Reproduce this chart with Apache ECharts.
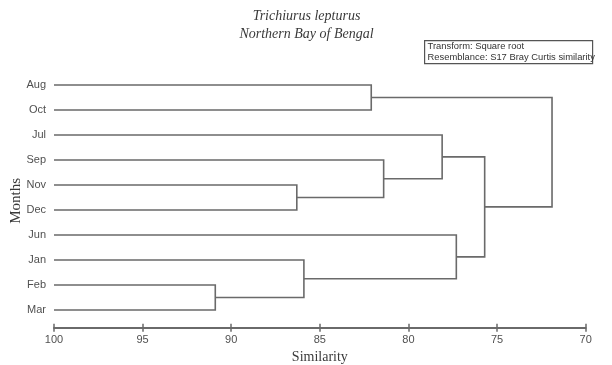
<!DOCTYPE html>
<html>
<head>
<meta charset="utf-8">
<script src="https://cdn.jsdelivr.net/npm/echarts@6/dist/echarts.min.js"></script>
<style>
  html, body { margin: 0; padding: 0; background: #fff; }
  #chart { width: 612px; height: 365px; }
</style>
</head>
<body>
<div id="chart"></div>
<script>
// Leaf order of the dendrogram, top to bottom
const months = ['Aug', 'Oct', 'Jul', 'Sep', 'Nov', 'Dec', 'Jun', 'Jan', 'Feb', 'Mar'];

// Agglomeration steps: node ids 0-9 are leaves, each merge creates node 10, 11, ...
const mergeLeft  = [4, 3, 2, 8, 7, 6, 12, 0, 17];
const mergeRight = [5, 10, 11, 9, 13, 14, 15, 1, 16];
const mergeSimilarity = [86.3, 81.4, 78.1, 90.9, 85.9, 77.3, 75.7, 82.1, 71.9];

// Similarity axis ticks
const simTicks = [100, 95, 90, 85, 80, 75, 70];

// Position of each node: leaves sit at similarity 100, merges at their level
const nodeSim = months.map(() => 100);
const nodeRow = months.map((m, i) => i + 1);
mergeLeft.forEach((l, k) => {
  nodeSim.push(mergeSimilarity[k]);
  nodeRow.push((nodeRow[l] + nodeRow[mergeRight[k]]) / 2);
});

// One bracket per merge: [leftSim, leftRow, rightSim, rightRow, mergeSim]
const brackets = mergeLeft.map((l, k) => {
  const r = mergeRight[k];
  return [nodeSim[l], nodeRow[l], nodeSim[r], nodeRow[r], mergeSimilarity[k]];
});

const lineColor = '#6a6a6a';
const chart = echarts.init(document.getElementById('chart'));

const gridBox = { left: 54, right: 26.3, top: 60, bottom: 37.3, containLabel: false, outerBoundsMode: 'none' };

chart.setOption({
  animation: false,
  backgroundColor: '#fff',
  title: {
    text: 'Trichiurus lepturus\nNorthern Bay of Bengal',
    left: 301.5, top: 2, textAlign: 'center',
    textStyle: {
      fontFamily: 'Liberation Serif', fontStyle: 'italic', fontWeight: 'normal',
      fontSize: 14, lineHeight: 18, color: '#3a3a3a'
    }
  },
  grid: [Object.assign({}, gridBox), Object.assign({}, gridBox)],
  xAxis: [{
    gridIndex: 0,
    type: 'value', min: 70, max: 100, interval: 5, inverse: true,
    axisLine: { onZero: false, lineStyle: { color: lineColor, width: 2 } },
    axisTick: { show: true, length: 4, lineStyle: { color: lineColor, width: 1.5 } },
    splitLine: { show: false },
    axisLabel: {
      margin: 7, color: '#505050', fontFamily: 'Liberation Sans', fontSize: 11,
      formatter: v => simTicks.includes(v) ? String(v) : ''
    },
    name: 'Similarity', nameLocation: 'middle', nameGap: 22,
    nameTextStyle: { fontFamily: 'Liberation Serif', fontSize: 14, color: '#3a3a3a' }
  }, {
    gridIndex: 1,
    type: 'value', min: 70, max: 100, interval: 5, inverse: true,
    axisLine: { show: false, onZero: false },
    axisTick: { show: true, inside: true, length: 4, lineStyle: { color: lineColor, width: 1.5 } },
    axisLabel: { show: false },
    splitLine: { show: false }
  }],
  yAxis: [{
    gridIndex: 0,
    type: 'value', min: 0, max: 10.708, interval: 1, inverse: true,
    axisLine: { show: false }, axisTick: { show: false }, splitLine: { show: false },
    axisLabel: {
      margin: 8, color: '#505050', fontFamily: 'Liberation Sans', fontSize: 11,
      formatter: v => (Number.isInteger(v) && v >= 1 && v <= months.length) ? months[v - 1] : ''
    },
    name: 'Months', nameLocation: 'middle', nameGap: 30, nameRotate: 90,
    nameMoveOverlap: false,
    nameTextStyle: {
      fontFamily: 'Liberation Serif', fontSize: 15, color: '#3a3a3a',
      padding: [0, 14, 0, 0]
    }
  }, {
    gridIndex: 1,
    type: 'value', min: 0, max: 10.708, inverse: true, show: false
  }],
  series: [{
    type: 'custom',
    xAxisIndex: 0, yAxisIndex: 0,
    data: brackets,
    renderItem: (params, api) => {
      const a = api.coord([api.value(0), api.value(1)]);
      const b = api.coord([api.value(2), api.value(3)]);
      const hA = api.coord([api.value(4), api.value(1)]);
      const hB = api.coord([api.value(4), api.value(3)]);
      return {
        type: 'polyline',
        shape: { points: [a, hA, hB, b] },
        style: { stroke: lineColor, lineWidth: 1.6, fill: null }
      };
    },
    silent: true
  }],
  graphic: [{
    type: 'group', left: 424, top: 40,
    children: [{
      type: 'rect', shape: { x: 0, y: 0, width: 168, height: 23 },
      style: { fill: '#fff', stroke: '#555', lineWidth: 1.2 }
    }, {
      type: 'text', x: 3, y: 1,
      style: { text: 'Transform: Square root', font: '9.4px "Liberation Sans"', fill: '#333' }
    }, {
      type: 'text', x: 3, y: 12,
      style: { text: 'Resemblance: S17 Bray Curtis similarity', font: '9.4px "Liberation Sans"', fill: '#333' }
    }]
  }]
});
</script>
</body>
</html>
